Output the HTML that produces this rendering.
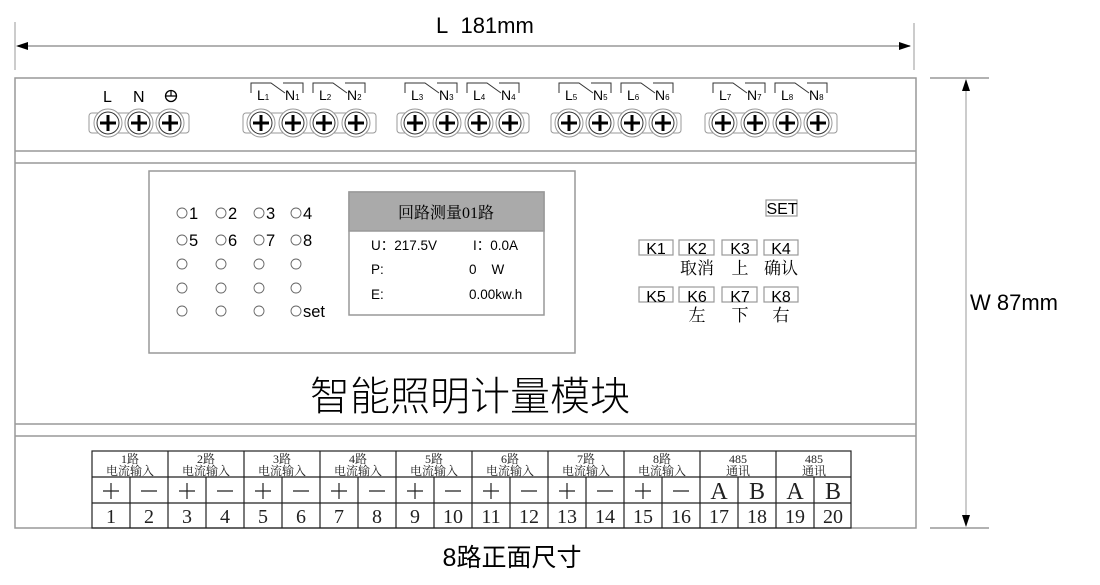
<!DOCTYPE html>
<html><head><meta charset="utf-8"><style>
html,body{margin:0;padding:0;background:#fff}
svg{display:block}
.s{font-family:"Liberation Sans","Noto Sans CJK SC",sans-serif}
.r{font-family:"Liberation Serif","Noto Serif CJK SC",serif}
</style></head><body>
<svg width="1100" height="585" viewBox="0 0 1100 585" xmlns="http://www.w3.org/2000/svg">
<defs>
<g id="sc">
<circle r="14" fill="#fff" stroke="#999" stroke-width="1"/>
<circle r="11" fill="none" stroke="#333" stroke-width="1"/>
<path d="M-8 0H8M0 -8V8" stroke="#000" stroke-width="3"/>
</g>
<g id="br">
<path d="M0 10V0H20L34 10M32 0H52V10" fill="none" stroke="#333" stroke-width="1"/>
</g>
</defs>
<line x1="15" y1="22" x2="15" y2="70" stroke="#999"/>
<line x1="914" y1="23" x2="914" y2="70" stroke="#999"/>
<line x1="18" y1="46" x2="910" y2="46" stroke="#999" stroke-width="1.5"/>
<path d="M16 46L28 42V50Z M911 46L899 42V50Z" fill="#000"/>
<text x="436" y="33" class="s" font-size="22">L&#160;&#160;181mm</text>
<line x1="930" y1="78" x2="989" y2="78" stroke="#999" stroke-width="1.5"/>
<line x1="930" y1="528" x2="989" y2="528" stroke="#999" stroke-width="1.5"/>
<line x1="966" y1="80" x2="966" y2="526" stroke="#999"/>
<path d="M966 79L962 91H970Z M966 527L962 515H970Z" fill="#000"/>
<text x="970" y="310" class="s" font-size="22">W 87mm</text>
<rect x="15" y="78" width="901" height="450" fill="none" stroke="#999" stroke-width="1.5"/>
<line x1="15" y1="151" x2="916" y2="151" stroke="#999" stroke-width="1.5"/>
<line x1="15" y1="163" x2="916" y2="163" stroke="#999" stroke-width="1.5"/>
<line x1="15" y1="424" x2="916" y2="424" stroke="#999" stroke-width="1.5"/>
<line x1="15" y1="436" x2="916" y2="436" stroke="#999" stroke-width="1.5"/>
<g fill="#fff" stroke="#999">
<rect x="89" y="113" width="100" height="20" rx="3"/>
<rect x="243" y="113" width="133" height="20" rx="3"/>
<rect x="397" y="113" width="132" height="20" rx="3"/>
<rect x="551" y="113" width="130" height="20" rx="3"/>
<rect x="705" y="113" width="132" height="20" rx="3"/>
</g>
<use href="#sc" x="108" y="123"/><use href="#sc" x="139" y="123"/><use href="#sc" x="170" y="123"/>
<use href="#sc" x="261" y="123"/><use href="#sc" x="293" y="123"/><use href="#sc" x="324" y="123"/><use href="#sc" x="356" y="123"/>
<use href="#sc" x="415" y="123"/><use href="#sc" x="447" y="123"/><use href="#sc" x="479" y="123"/><use href="#sc" x="510" y="123"/>
<use href="#sc" x="569" y="123"/><use href="#sc" x="600" y="123"/><use href="#sc" x="632" y="123"/><use href="#sc" x="663" y="123"/>
<use href="#sc" x="723" y="123"/><use href="#sc" x="755" y="123"/><use href="#sc" x="787" y="123"/><use href="#sc" x="818" y="123"/>
<g class="s" font-size="16">
<text x="103" y="102">L</text><text x="133" y="102">N</text>
</g>
<circle cx="171" cy="96" r="5.5" fill="none" stroke="#000" stroke-width="1.3"/>
<path d="M165.5 96H176.5M171 90.5V96" stroke="#000" stroke-width="1.2"/>
<use href="#br" x="251" y="83"/><use href="#br" x="313" y="83"/>
<use href="#br" x="405" y="83"/><use href="#br" x="467" y="83"/>
<use href="#br" x="559" y="83"/><use href="#br" x="621" y="83"/>
<use href="#br" x="713" y="83"/><use href="#br" x="775" y="83"/>
<g class="s" font-size="14">
<text x="257" y="100">L<tspan font-size="8">1</tspan></text><text x="285" y="100">N<tspan font-size="8">1</tspan></text>
<text x="319" y="100">L<tspan font-size="8">2</tspan></text><text x="347" y="100">N<tspan font-size="8">2</tspan></text>
<text x="411" y="100">L<tspan font-size="8">3</tspan></text><text x="439" y="100">N<tspan font-size="8">3</tspan></text>
<text x="473" y="100">L<tspan font-size="8">4</tspan></text><text x="501" y="100">N<tspan font-size="8">4</tspan></text>
<text x="565" y="100">L<tspan font-size="8">5</tspan></text><text x="593" y="100">N<tspan font-size="8">5</tspan></text>
<text x="627" y="100">L<tspan font-size="8">6</tspan></text><text x="655" y="100">N<tspan font-size="8">6</tspan></text>
<text x="719" y="100">L<tspan font-size="8">7</tspan></text><text x="747" y="100">N<tspan font-size="8">7</tspan></text>
<text x="781" y="100">L<tspan font-size="8">8</tspan></text><text x="809" y="100">N<tspan font-size="8">8</tspan></text>
</g>
<rect x="149" y="171" width="426" height="182" fill="none" stroke="#999" stroke-width="1.5"/>
<g fill="none" stroke="#666" stroke-width="0.9">
<circle cx="182" cy="213" r="5"/><circle cx="221" cy="213" r="5"/><circle cx="259" cy="213" r="5"/><circle cx="296" cy="213" r="5"/>
<circle cx="182" cy="240" r="5"/><circle cx="221" cy="240" r="5"/><circle cx="259" cy="240" r="5"/><circle cx="296" cy="240" r="5"/>
<circle cx="182" cy="264" r="5"/><circle cx="221" cy="264" r="5"/><circle cx="259" cy="264" r="5"/><circle cx="296" cy="264" r="5"/>
<circle cx="182" cy="288" r="5"/><circle cx="221" cy="288" r="5"/><circle cx="259" cy="288" r="5"/><circle cx="296" cy="288" r="5"/>
<circle cx="182" cy="311" r="5"/><circle cx="221" cy="311" r="5"/><circle cx="259" cy="311" r="5"/><circle cx="296" cy="311" r="5"/>
</g>
<g class="s" font-size="16.5">
<text x="189" y="219">1</text><text x="228" y="219">2</text><text x="266" y="219">3</text><text x="303" y="219">4</text>
<text x="189" y="246">5</text><text x="228" y="246">6</text><text x="266" y="246">7</text><text x="303" y="246">8</text>
<text x="303" y="317">set</text>
</g>
<rect x="349" y="192" width="195" height="123" fill="#fff" stroke="#999" stroke-width="1.5"/>
<rect x="349" y="192" width="195" height="39" fill="#aaa" stroke="#999" stroke-width="1.5"/>
<text x="446" y="218" text-anchor="middle" class="r" font-size="16">回路测量01路</text>
<g class="s" font-size="13.5">
<text x="371" y="250">U：217.5V</text><text x="473" y="250">I：0.0A</text>
<text x="371" y="274">P:</text><text x="469" y="274">0&#160;&#160;&#160;&#160;W</text>
<text x="371" y="299">E:</text><text x="469" y="299">0.00kw.h</text>
</g>
<g fill="none" stroke="#999" stroke-width="1.2">
<rect x="766" y="200" width="31" height="16"/>
<rect x="639" y="240" width="34" height="15"/><rect x="679" y="240" width="35" height="15"/><rect x="722" y="240" width="35" height="15"/><rect x="764" y="240" width="34" height="15"/>
<rect x="639" y="287" width="34" height="15"/><rect x="679" y="287" width="35" height="15"/><rect x="722" y="287" width="35" height="15"/><rect x="764" y="287" width="34" height="15"/>
</g>
<g class="s" font-size="16" text-anchor="middle">
<text x="782" y="214">SET</text>
<text x="656" y="254">K1</text><text x="697" y="254">K2</text><text x="740" y="254">K3</text><text x="781" y="254">K4</text>
<text x="656" y="302">K5</text><text x="697" y="302">K6</text><text x="740" y="302">K7</text><text x="781" y="302">K8</text>
</g>
<g class="r" font-size="17" text-anchor="middle">
<text x="697" y="274">取消</text><text x="740" y="274">上</text><text x="781" y="274">确认</text>
<text x="697" y="321">左</text><text x="740" y="321">下</text><text x="781" y="321">右</text>
</g>
<text x="470" y="410" text-anchor="middle" font-family="'Liberation Sans','Noto Sans CJK SC',sans-serif" font-size="40" font-weight="300">智能照明计量模块</text>
<g stroke="#222" stroke-width="1.2" fill="none">
<rect x="92" y="451" width="759" height="77"/>
<line x1="92" y1="477" x2="851" y2="477"/><line x1="92" y1="503" x2="851" y2="503"/>
<path d="M168 451V528M244 451V528M320 451V528M396 451V528M472 451V528M548 451V528M624 451V528M700 451V528M776 451V528"/>
<path d="M130 477V528M206 477V528M282 477V528M358 477V528M434 477V528M510 477V528M586 477V528M662 477V528M738 477V528M814 477V528"/>
</g>
<g class="r" font-size="12" text-anchor="middle" fill="#222">
<text x="130" y="463">1路</text><text x="130" y="475">电流输入</text>
<text x="206" y="463">2路</text><text x="206" y="475">电流输入</text>
<text x="282" y="463">3路</text><text x="282" y="475">电流输入</text>
<text x="358" y="463">4路</text><text x="358" y="475">电流输入</text>
<text x="434" y="463">5路</text><text x="434" y="475">电流输入</text>
<text x="510" y="463">6路</text><text x="510" y="475">电流输入</text>
<text x="586" y="463">7路</text><text x="586" y="475">电流输入</text>
<text x="662" y="463">8路</text><text x="662" y="475">电流输入</text>
<text x="738" y="463">485</text><text x="738" y="475">通讯</text>
<text x="814" y="463">485</text><text x="814" y="475">通讯</text>
</g>
<g stroke="#222" stroke-width="1.2">
<path d="M103 491H119M111 483V499M141 491H157M179 491H195M187 483V499M217 491H233M255 491H271M263 483V499M293 491H309M331 491H347M339 483V499M369 491H385M407 491H423M415 483V499M445 491H461M483 491H499M491 483V499M521 491H537M559 491H575M567 483V499M597 491H613M635 491H651M643 483V499M673 491H689"/>
</g>
<g class="r" font-size="20" text-anchor="middle" fill="#222">
<text x="719" y="499" font-size="24">A</text><text x="757" y="499" font-size="24">B</text><text x="795" y="499" font-size="24">A</text><text x="833" y="499" font-size="24">B</text>
<text x="111" y="523">1</text><text x="149" y="523">2</text><text x="187" y="523">3</text><text x="225" y="523">4</text>
<text x="263" y="523">5</text><text x="301" y="523">6</text><text x="339" y="523">7</text><text x="377" y="523">8</text>
<text x="415" y="523">9</text><text x="453" y="523">10</text><text x="491" y="523">11</text><text x="529" y="523">12</text>
<text x="567" y="523">13</text><text x="605" y="523">14</text><text x="643" y="523">15</text><text x="681" y="523">16</text>
<text x="719" y="523">17</text><text x="757" y="523">18</text><text x="795" y="523">19</text><text x="833" y="523">20</text>
</g>
<text x="512" y="566" text-anchor="middle" class="s" font-size="25">8路正面尺寸</text>
</svg>
</body></html>
